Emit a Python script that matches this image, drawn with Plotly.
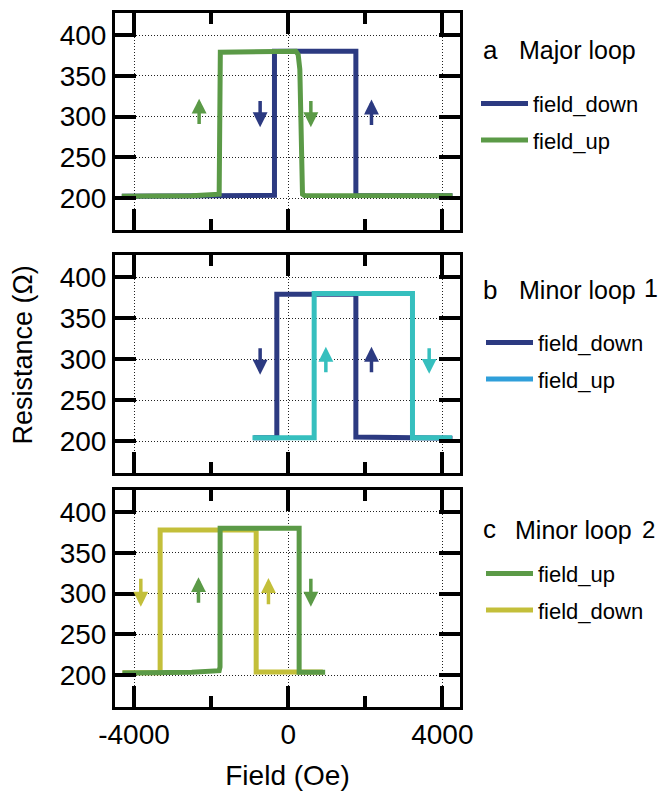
import plotly.graph_objects as go

# ---------------- data ----------------
# Panel a : major loop
a_down_x = [4264, 1757, 1757, -355, -355, -4316]
a_down_y = [203, 203.5, 380, 380, 203.5, 202.5]
a_up_x = [-4316, -2500, -1790, -1765, -1760, 200, 260, 303, 372, 420, 4264]
a_up_y = [202.5, 203, 205, 300, 379, 380, 376, 358, 205, 203.5, 203]

# Panel b : minor loop 1
b_down_x = [4264, 1757, 1757, -294, -294, -900]
b_down_y = [203.5, 205, 379, 379, 204, 204]
b_up_x = [-926, 675, 675, 3226, 3226, 4250]
b_up_y = [204, 204, 380, 380, 204, 204]

# Panel c : minor loop 2
c_up_x = [-4299, -2500, -1790, -1768, -1765, 285, 285, 960]
c_up_y = [202.8, 203.5, 205.5, 210, 380, 380, 203.5, 203.5]
c_down_x = [900, -830, -830, -3322, -3322, -4299]
c_down_y = [204, 204, 378, 378, 203, 203]

# sweep-direction arrows (x, tail R, head R)
a_arrow_x = [-2310, -727, 589, 2162]
a_arrow_from = [289, 321, 321, 288]
a_arrow_to = [322, 287, 287, 321]
b_arrow_x = [-727, 978, 2162, 3659]
b_arrow_from = [315, 282, 282, 315]
b_arrow_to = [281, 315, 315, 282]
c_arrow_x = [-3823, -2327, -511, 589]
c_arrow_from = [320, 287, 285, 320]
c_arrow_to = [284, 320, 319, 284]

x_ticks = [-4000, 0, 4000]
x_ticklabels = ["-4000", "0", "4000"]
x_minor = [-2000, 2000]
y_ticks = [200, 250, 300, 350, 400]

# ---------------- style ----------------
NAVY = "#2c3a81"
GREEN = "#5b9a47"
TEAL = "#36bfbe"
LBLUE = "#2f9fda"
OLIVE = "#c3bf3a"
FONT = "Liberation Sans"
LW = 5

fig = go.Figure()

def add_line(x, y, color, name, xa, ya, legend, show=True, rank=None):
    fig.add_trace(go.Scatter(
        x=x, y=y, mode="lines", name=name,
        line=dict(color=color, width=LW),
        xaxis=xa, yaxis=ya, legend=legend, showlegend=show,
        legendrank=rank if rank is not None else 1000,
        legendgroup=name + legend + color, hoverinfo="skip"))

# panel a
add_line(a_down_x, a_down_y, NAVY, "field_down", "x", "y", "legend", rank=1)
add_line(a_up_x, a_up_y, GREEN, "field_up", "x", "y", "legend", rank=2)
# panel b
add_line(b_down_x, b_down_y, NAVY, "field_down", "x2", "y2", "legend2", rank=1)
add_line(b_up_x, b_up_y, TEAL, "field_up", "x2", "y2", "legend2", show=False)
add_line([None], [None], LBLUE, "field_up", "x2", "y2", "legend2", rank=2)
# panel c
add_line(c_down_x, c_down_y, OLIVE, "field_down", "x3", "y3", "legend3", rank=2)
add_line(c_up_x, c_up_y, GREEN, "field_up", "x3", "y3", "legend3", rank=1)

# arrows
annotations = []
def add_arrows(xs, tails, heads, colors, xr, yr):
    for xv, t, h, c in zip(xs, tails, heads, colors):
        annotations.append(dict(
            x=xv, y=h, ax=xv, ay=t, xref=xr, yref=yr, axref=xr, ayref=yr,
            text="", showarrow=True, arrowhead=2, arrowsize=0.85,
            arrowwidth=3.5, arrowcolor=c, standoff=0, startstandoff=0))

add_arrows(a_arrow_x, a_arrow_from, a_arrow_to, [GREEN, NAVY, GREEN, NAVY], "x", "y")
add_arrows(b_arrow_x, b_arrow_from, b_arrow_to, [NAVY, TEAL, NAVY, TEAL], "x2", "y2")
add_arrows(c_arrow_x, c_arrow_from, c_arrow_to, [OLIVE, GREEN, OLIVE, GREEN], "x3", "y3")

# geometry (window pixels -> paper); page body has an 8px margin
OX, OY = 8, 8
W, H = 659, 783
L, R, T, B = 115 - OX, 207, 10 - OY, 84
PW, PH = W - L - R, H - T - B
def px(xp):
    return (xp - OX - L) / PW
def py(yp):
    return (H - B - (yp - OY)) / PH

# titles beside legends
def txt(s, xp, yp, size=25):
    annotations.append(dict(text=s, x=px(xp), y=py(yp), xref="paper", yref="paper",
                            xanchor="left", yanchor="middle", showarrow=False,
                            font=dict(family=FONT, size=size, color="black")))

txt("a", 481, 47, 26)
txt("Major loop", 517, 47)
txt("b", 481, 288, 26)
txt("Minor loop", 517, 288)
txt("1", 642, 286)
txt("c", 481, 528, 26)
txt("Minor loop", 513, 529)
txt("2", 640, 529, 24)

annotations.append(dict(text="Resistance (\u03a9)", x=px(23), y=py(354), xref="paper",
                        yref="paper", xanchor="center", yanchor="middle",
                        textangle=-90, showarrow=False,
                        font=dict(family=FONT, size=27, color="black")))

xrange = [-4493, 4459]
yrange = [161, 427]

def xaxis(domain_anchor, labels):
    return dict(
        anchor=domain_anchor, domain=[0, 1], range=xrange,
        tickvals=x_ticks, ticktext=x_ticklabels, showticklabels=labels,
        ticks="inside", ticklen=21, tickwidth=3.5, tickcolor="black",
        mirror="allticks", showline=True, linewidth=3, linecolor="black",
        showgrid=True, gridcolor="#222", gridwidth=1, griddash="1px,2px",
        zeroline=False,
        minor=dict(tickvals=x_minor, ticks="inside", ticklen=11, tickwidth=3.5,
                   tickcolor="black", showgrid=False),
        tickfont=dict(family=FONT, size=28, color="black"))

def yaxis(anchor, domain):
    return dict(
        anchor=anchor, domain=domain, range=yrange, tickvals=y_ticks,
        ticks="inside", ticklen=21, tickwidth=3.5, tickcolor="black",
        mirror="allticks", showline=True, linewidth=3, linecolor="black",
        showgrid=True, gridcolor="#222", gridwidth=1, griddash="1px,2px",
        zeroline=False, tickfont=dict(family=FONT, size=28, color="black"))

def dom(top, bot):
    return [py(bot), py(top)]

x3 = xaxis("y3", True)
x3["title"] = dict(text="Field (Oe)", font=dict(family=FONT, size=28, color="black"),
                   standoff=18)

legend_common = dict(font=dict(family=FONT, size=22, color="black"),
                     bgcolor="rgba(0,0,0,0)", xanchor="left", yanchor="top",
                     traceorder="grouped", tracegroupgap=5, itemwidth=47)

fig.update_layout(
    width=W, height=H, margin=dict(l=L, r=R, t=T, b=B),
    paper_bgcolor="white", plot_bgcolor="white",
    font=dict(family=FONT, color="black"),
    xaxis=xaxis("y", False), yaxis=yaxis("x", dom(10, 228)),
    xaxis2=xaxis("y2", False), yaxis2=yaxis("x2", dom(253, 472)),
    xaxis3=x3, yaxis3=yaxis("x3", dom(489, 707)),
    legend=dict(x=px(476), y=py(80), **legend_common),
    legend2=dict(x=px(481), y=py(320), **legend_common),
    legend3=dict(x=px(481), y=py(552), **legend_common),
    annotations=annotations,
    showlegend=True,
)

fig.write_html("out.html", config={"displayModeBar": False})
